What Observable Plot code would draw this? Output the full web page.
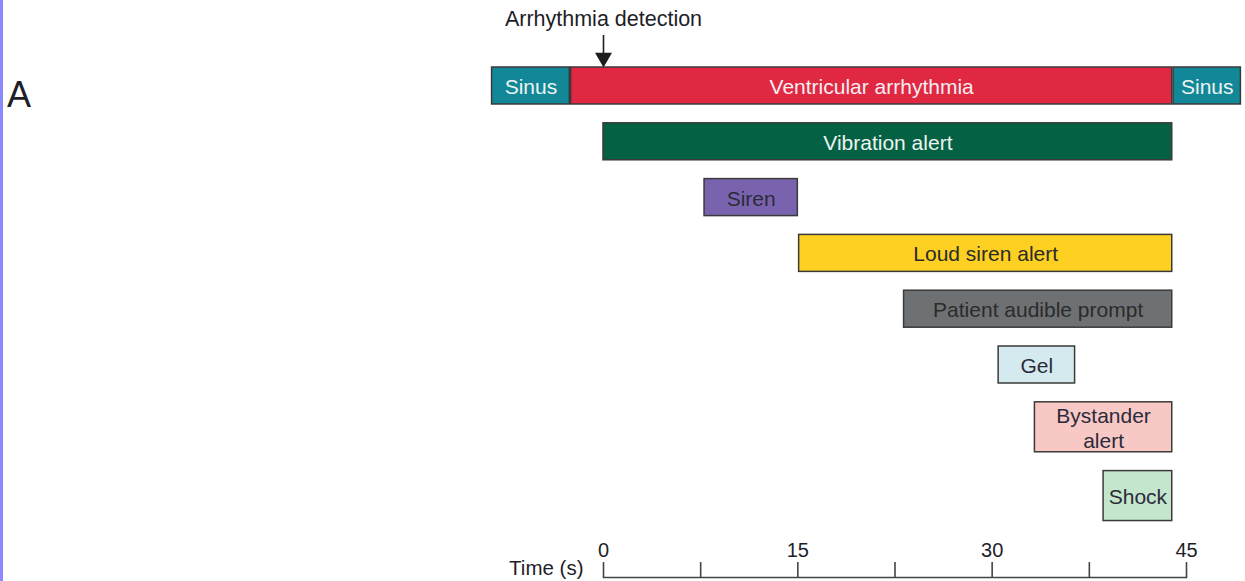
<!DOCTYPE html>
<html>
<head>
<meta charset="utf-8">
<script src="https://cdn.jsdelivr.net/npm/d3@7"></script>
<script src="https://cdn.jsdelivr.net/npm/@observablehq/plot@0.6"></script>
<style>
  html, body { margin: 0; padding: 0; background: #ffffff; overflow: hidden; }
  #wrap { position: relative; width: 1245px; height: 581px; }
  #stripe { position: absolute; left: 0; top: 0; width: 3px; height: 581px; background: #8a87ff; }
  #panel { position: absolute; left: 7px; top: 77px; font: 36px "Liberation Sans", Arial, sans-serif; line-height: 1; color: #1e1e28; }
  #chart { position: absolute; left: 0; top: 0; }
  #chart svg { overflow: visible; }
</style>
</head>
<body>
<div id="wrap">
  <div id="chart"></div>
  <div id="stripe"></div>
  <div id="panel">A</div>
</div>
<script>
// ---- data (seconds) ----
const labels = ["Sinus", "Ventricular arrhythmia", "Sinus", "Vibration alert", "Siren", "Loud siren alert", "Patient audible prompt", "Gel", "Bystander\nalert", "Shock"];
const rowOf  = [0, 0, 0, 1, 2, 3, 4, 5, 6, 7];
const starts = [-8.6, -2.5, 44.0, 0, 7.8, 15.1, 23.2, 30.5, 33.3, 38.6];
const ends   = [-2.6, 43.9, 49.2, 43.9, 15.0, 43.9, 43.9, 36.4, 43.9, 43.9];
const fills  = ["#128797", "#e02843", "#128797", "#046143", "#7a63ae", "#fdd021", "#6e7173", "#d4eaee", "#f8c8c5", "#c4e6cc"];
const inks   = ["#eef4f2", "#f6eef0", "#eef4f2", "#eef4f0", "#2b2b3a", "#2b2b2b", "#2b2b2b", "#2b2b3a", "#2b2b3a", "#2b2b3a"];
const rowLines = [1, 1, 1, 1, 1, 1, 2, 2];
const tickValues = [0, 7.5, 15, 22.5, 30, 37.5, 45];
const tickLabels = [0, 15, 30, 45];
const detectionTime = 0;

// ---- layout in "line units" for the y scale ----
const PAD = 1.85, LINE = 1, GAP = 1.45, AXIS = 39.3;
const rowTop = [], rowBottom = [];
let cursor = 0;
rowLines.forEach((n, i) => {
  rowTop[i] = cursor;
  rowBottom[i] = cursor + PAD + n * LINE;
  cursor = rowBottom[i] + GAP;
});

const tasks = labels.map((label, i) => ({
  label, start: starts[i], end: ends[i], fill: fills[i], ink: inks[i],
  y1: rowTop[rowOf[i]], y2: rowBottom[rowOf[i]]
}));

const font = '"Liberation Sans", Arial, Helvetica, sans-serif';

const chart = Plot.plot({
  width: 1245,
  height: 581,
  marginLeft: 603,
  marginRight: 59,
  marginTop: 67,
  marginBottom: 4,
  style: { fontFamily: font, background: "transparent", overflow: "visible" },
  x: { domain: [0, 45], axis: null },
  y: { domain: [0, AXIS], reverse: true, axis: null },
  marks: [
    Plot.rect(tasks, {
      x1: "start", x2: "end", y1: "y1", y2: "y2",
      fill: "fill", stroke: "#3a3a3a", strokeWidth: 1.5
    }),
    Plot.text(tasks, {
      x: d => (d.start + d.end) / 2,
      y: d => (d.y1 + d.y2) / 2,
      text: "label", fill: "ink",
      fontSize: 21, lineHeight: 1.2
    }),
    // arrhythmia detection annotation
    Plot.text([detectionTime], {
      x: d => d, y: -3.7, text: () => "Arrhythmia detection",
      fontSize: 21.5, fill: "#1e1e28"
    }),
    Plot.ruleX([detectionTime], { x: d => d, y1: -2.47, y2: -1.0, stroke: "#1e1e1e", strokeWidth: 1.6 }),
    Plot.dot([detectionTime], {
      x: d => d, y: -0.75, symbol: "triangle", rotate: 180,
      r: 6.3, fill: "#1e1e1e", stroke: "none"
    }),
    // time axis
    Plot.frame({ anchor: "bottom", stroke: "#444", strokeWidth: 1.6 }),
    Plot.ruleX(tickValues, { x: d => d, y1: AXIS - 1.15, y2: AXIS, stroke: "#444", strokeWidth: 1.6 }),
    Plot.text(tickLabels, {
      x: d => d, y: AXIS, dy: -27, text: d => String(d),
      fontSize: 20, fill: "#1e1e28"
    }),
    Plot.text(["Time (s)"], {
      x: 0, y: AXIS, dx: -20, dy: -9, text: d => d,
      textAnchor: "end", fontSize: 20.5, fill: "#1e1e28"
    })
  ]
});

document.getElementById("chart").appendChild(chart);
</script>
</body>
</html>
